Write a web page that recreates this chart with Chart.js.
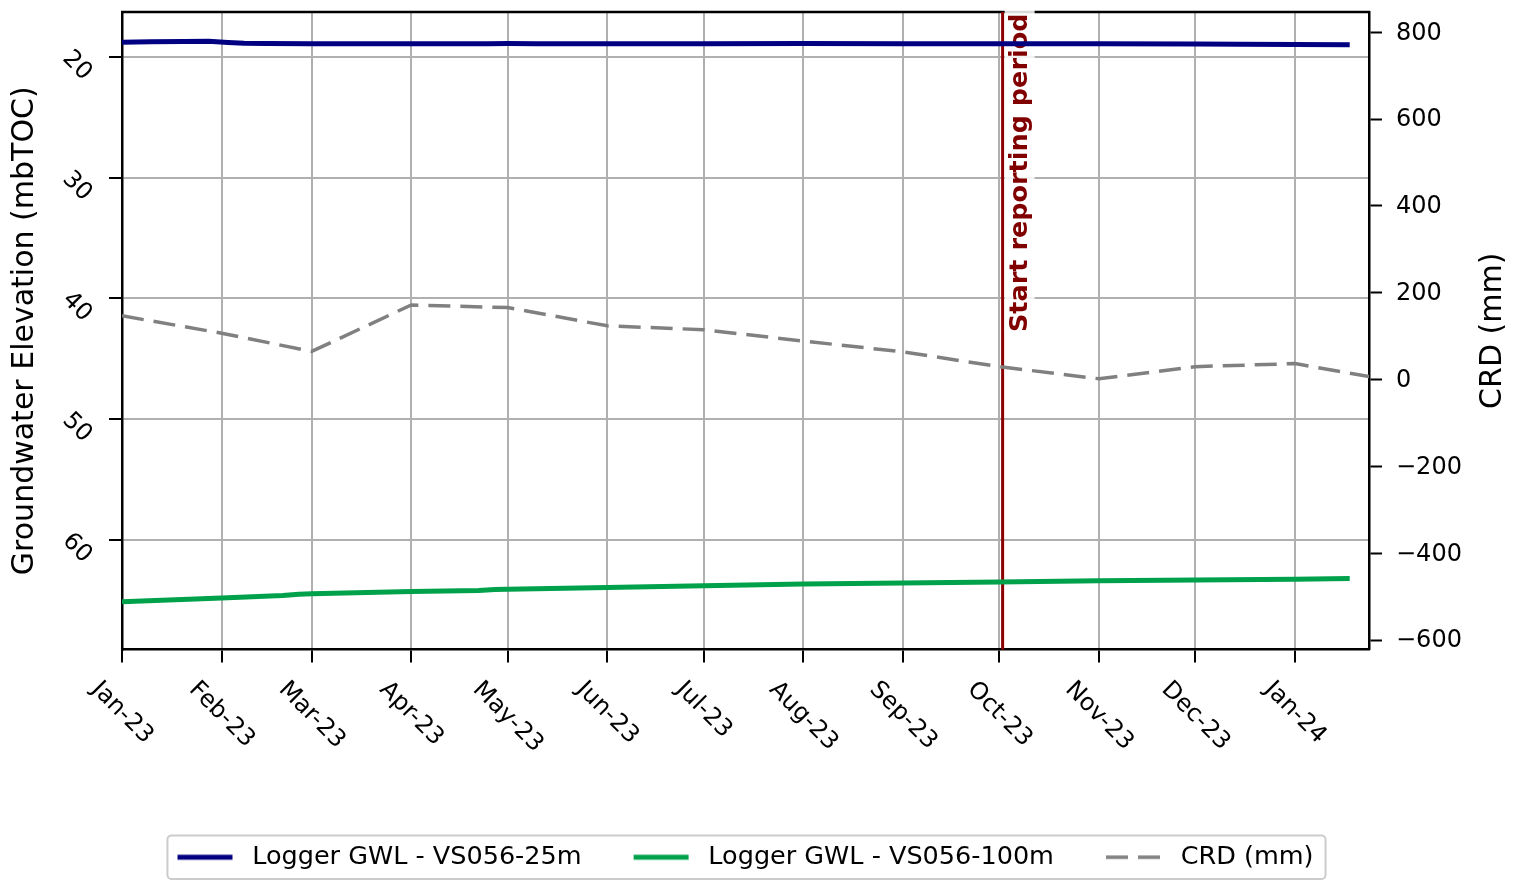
<!DOCTYPE html>
<html><head><meta charset="utf-8">
<script src="https://cdn.jsdelivr.net/npm/chart.js@4.4.0/dist/chart.umd.min.js"></script>
<style>html,body{margin:0;padding:0;background:#fff;}#wrap{width:1526px;height:884px;}</style>
</head><body><div id="wrap"><canvas id="c" width="1526" height="884"></canvas></div>
<script>
// ---------- data ----------
const xStartDate = "2023-01-01";
const xEndDate = "2024-01-24";
const monthTickDates = ["2023-01-01","2023-02-01","2023-03-01","2023-04-01","2023-05-01","2023-06-01","2023-07-01","2023-08-01","2023-09-01","2023-10-01","2023-11-01","2023-12-01","2024-01-01"];
const monthTickLabels = ["Jan-23","Feb-23","Mar-23","Apr-23","May-23","Jun-23","Jul-23","Aug-23","Sep-23","Oct-23","Nov-23","Dec-23","Jan-24"];
const leftTicks = [20, 30, 40, 50, 60];
const rightTicks = [-600, -400, -200, 0, 200, 400, 600, 800];

const gwl25Dates = ["2023-01-01","2023-01-10","2023-01-20","2023-01-28","2023-02-03","2023-02-08","2023-02-15","2023-03-01","2023-04-01","2023-04-25","2023-05-01","2023-05-10","2023-06-01","2023-07-01","2023-08-01","2023-09-01","2023-10-01","2023-11-01","2023-12-01","2023-12-15","2024-01-01","2024-01-18"];
const gwl25Values = [18.76,18.72,18.69,18.68,18.78,18.84,18.87,18.88,18.89,18.89,18.87,18.89,18.88,18.88,18.87,18.89,18.89,18.89,18.90,18.92,18.94,18.96];

const gwl100Dates = ["2023-01-01","2023-02-01","2023-02-20","2023-02-25","2023-03-01","2023-04-01","2023-04-22","2023-04-27","2023-05-01","2023-06-01","2023-07-01","2023-08-01","2023-09-01","2023-10-01","2023-11-01","2023-12-01","2024-01-01","2024-01-18"];
const gwl100Values = [65.15,64.83,64.62,64.52,64.48,64.30,64.20,64.12,64.10,63.97,63.82,63.67,63.58,63.50,63.40,63.34,63.28,63.22];

const crdDates = ["2023-01-01","2023-02-01","2023-03-01","2023-04-01","2023-05-01","2023-06-01","2023-07-01","2023-08-01","2023-09-01","2023-10-01","2023-11-01","2023-12-01","2024-01-01","2024-02-01"];
const crdValues = [147,107,65,172,166,124,115,89,64,30,2,30,37,-3];

const reportStartDate = "2023-10-02";
const reportLabel = "Start reporting period";

// ---------- helpers ----------
const FONT = "'DejaVu Sans', sans-serif";
function dayOf(s){const [y,m,d]=s.split('-').map(Number);const [y0,m0,d0]=xStartDate.split('-').map(Number);return (Date.UTC(y,m-1,d)-Date.UTC(y0,m0-1,d0))/86400000;}
function pts(dates, vals){return dates.map((d,i)=>({x:dayOf(d),y:vals[i]}));}
function makeSample(color,width,dash){const c=document.createElement('canvas');c.width=104;c.height=20;const g=c.getContext('2d');g.strokeStyle=color;g.lineWidth=width;g.setLineDash(dash||[]);g.beginPath();g.moveTo(42,10);g.lineTo(97,10);g.stroke();return c;}

const C25='#000080', C100='#00a14b', CCRD='#808080', CRED='#8b0000';
const samples=[makeSample(C25,5),makeSample(C100,5),makeSample(CCRD,3.5,[22,10])];

const decor={
  id:'decor',
  beforeDatasetsDraw(chart){
    const {ctx,chartArea:a,scales}=chart;
    ctx.save();
    ctx.strokeStyle='#000';ctx.lineWidth=2.5;
    ctx.beginPath();ctx.moveTo(a.left-1,a.top);ctx.lineTo(a.right+1,a.top);ctx.stroke();
    const xr=scales.x.getPixelForValue(dayOf(reportStartDate));
    ctx.strokeStyle=CRED;ctx.lineWidth=3;
    ctx.beginPath();ctx.moveTo(xr,a.top);ctx.lineTo(xr,a.bottom);ctx.stroke();
    ctx.font="bold 25.5px "+FONT;
    const w=ctx.measureText(reportLabel).width;
    const y0=332;
    ctx.fillStyle='rgba(255,255,255,0.85)';
    ctx.fillRect(xr+2,y0-w-4,30,w+6);
    ctx.translate(xr+24,y0);ctx.rotate(-Math.PI/2);
    ctx.fillStyle='#800000';ctx.textAlign='left';ctx.textBaseline='alphabetic';
    ctx.fillText(reportLabel,0,0);
    ctx.restore();
  },
  afterDraw(chart){
    const {ctx,chartArea:a,scales}=chart;
    ctx.save();
    ctx.fillStyle='#000';
    ctx.font="24px "+FONT;
    monthTickDates.forEach((d,i)=>{
      const x=scales.x.getPixelForValue(dayOf(d));
      const L=ctx.measureText(monthTickLabels[i]).width, h=28;
      ctx.save();ctx.translate(x,676+0.3536*(L+h));ctx.rotate(Math.PI/4);
      ctx.textAlign='center';ctx.textBaseline='middle';ctx.fillText(monthTickLabels[i],0,0);ctx.restore();
    });
    leftTicks.forEach(v=>{
      const y=scales.y.getPixelForValue(v);
      ctx.save();ctx.translate(77,y+8.5);ctx.rotate(Math.PI/4);
      ctx.textAlign='center';ctx.textBaseline='middle';ctx.fillText(String(v),0,0);ctx.restore();
    });
    ctx.textAlign='left';ctx.textBaseline='middle';
    rightTicks.forEach(v=>{
      const y=scales.y1.getPixelForValue(v);
      ctx.fillText(String(v).replace('-','\u2212'),a.right+27,y+1);
    });
    ctx.font="30px "+FONT;
    ctx.save();ctx.translate(1493,(a.top+a.bottom)/2);ctx.rotate(-Math.PI/2);
    ctx.textAlign='center';ctx.textBaseline='middle';ctx.fillText('CRD (mm)',0,0);ctx.restore();
    const hb=chart.legend.legendHitBoxes;
    if(hb&&hb.length){
      const l=hb[0].left+42-10, r=hb[hb.length-1].left+hb[hb.length-1].width+12;
      const t=chart.legend.top, b=chart.legend.bottom;
      ctx.strokeStyle='#cccccc';ctx.lineWidth=2;
      ctx.beginPath();ctx.roundRect(l,t+1,r-l,b-t-2,4);ctx.stroke();
    }
    ctx.restore();
  }
};

const gridCommon={color:'#b0b0b0',lineWidth:2,tickColor:'#000',tickLength:13,tickWidth:2};

new Chart(document.getElementById('c'),{
  type:'line',
  data:{datasets:[
    {label:'Logger GWL - VS056-25m',data:pts(gwl25Dates,gwl25Values),yAxisID:'y',borderColor:C25,backgroundColor:C25,borderWidth:5,pointRadius:0,tension:0},
    {label:'Logger GWL - VS056-100m',data:pts(gwl100Dates,gwl100Values),yAxisID:'y',borderColor:C100,backgroundColor:C100,borderWidth:5,pointRadius:0,tension:0},
    {label:'CRD (mm)',data:pts(crdDates,crdValues),yAxisID:'y1',borderColor:CCRD,backgroundColor:CCRD,borderWidth:3.5,borderDash:[22,10],pointRadius:0,tension:0}
  ]},
  options:{
    responsive:false,devicePixelRatio:1,animation:false,
    layout:{padding:{left:0,top:12,right:77,bottom:4}},
    scales:{
      x:{type:'linear',min:0,max:dayOf(xEndDate),
        afterBuildTicks:s=>{s.ticks=monthTickDates.map(d=>({value:dayOf(d)}));},
        afterFit:s=>{s.height=185;},
        ticks:{display:false},grid:gridCommon,border:{color:'#000',width:2.5}},
      y:{position:'left',min:16.25,max:69.1,reverse:true,
        afterBuildTicks:s=>{s.ticks=leftTicks.map(v=>({value:v}));},
        afterFit:s=>{s.width=122;},
        ticks:{display:false},grid:gridCommon,border:{color:'#000',width:2.5},
        title:{display:true,text:'Groundwater Elevation (mbTOC)',color:'#000',font:{family:FONT,size:30},padding:{top:7,bottom:0}}},
      y1:{position:'right',min:-621.4,max:846.7,
        afterBuildTicks:s=>{s.ticks=rightTicks.map(v=>({value:v}));},
        afterFit:s=>{s.width=80;},
        ticks:{display:false},grid:{drawOnChartArea:false,tickColor:'#000',tickLength:13,tickWidth:2},border:{color:'#000',width:2.5}}
    },
    plugins:{
      tooltip:{enabled:false},
      legend:{position:'bottom',
        labels:{font:{family:FONT,size:25.5},color:'#000',padding:10,usePointStyle:true,pointStyleWidth:104,
          generateLabels(chart){const items=Chart.defaults.plugins.legend.labels.generateLabels(chart);items.forEach((it,i)=>{it.pointStyle=samples[i];it.lineWidth=0;it.lineDash=[];});return items;}}}
    }
  },
  plugins:[decor]
});
</script></body></html>
